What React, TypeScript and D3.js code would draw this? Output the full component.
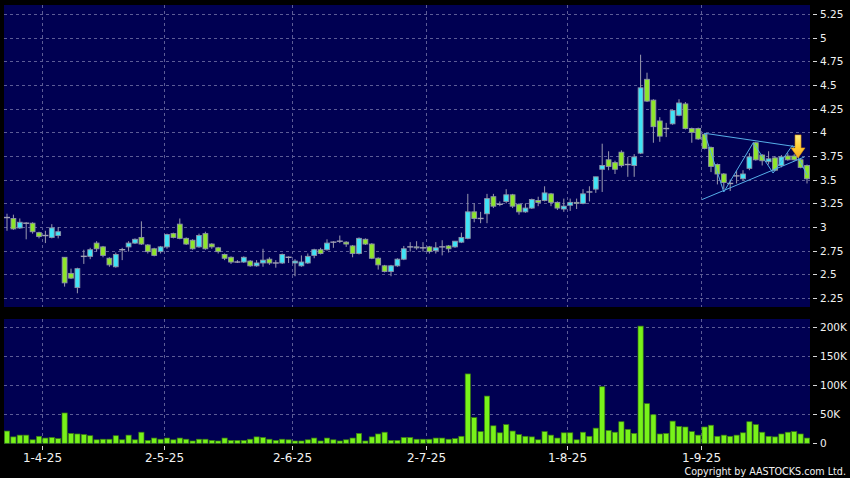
import React, { useEffect, useRef } from "react";
import * as d3 from "d3";

// trading days shown on the chart (D-M-YY)
const dates = [
  "25-3-25", "26-3-25", "27-3-25", "28-3-25", "31-3-25",
  "1-4-25", "2-4-25", "3-4-25", "7-4-25", "8-4-25", "9-4-25", "10-4-25", "11-4-25", "14-4-25", "15-4-25",
  "16-4-25", "17-4-25", "22-4-25", "23-4-25", "24-4-25", "25-4-25", "28-4-25", "29-4-25", "30-4-25",
  "2-5-25", "6-5-25", "7-5-25", "8-5-25", "9-5-25", "12-5-25", "13-5-25", "14-5-25", "15-5-25", "16-5-25",
  "19-5-25", "20-5-25", "21-5-25", "22-5-25", "23-5-25", "26-5-25", "27-5-25", "28-5-25", "29-5-25", "30-5-25",
  "2-6-25", "3-6-25", "4-6-25", "5-6-25", "6-6-25", "9-6-25", "10-6-25", "11-6-25", "12-6-25", "13-6-25",
  "16-6-25", "17-6-25", "18-6-25", "19-6-25", "20-6-25", "23-6-25", "24-6-25", "25-6-25", "26-6-25", "27-6-25", "30-6-25",
  "2-7-25", "3-7-25", "4-7-25", "7-7-25", "8-7-25", "9-7-25", "10-7-25", "11-7-25", "14-7-25", "15-7-25",
  "16-7-25", "17-7-25", "18-7-25", "21-7-25", "22-7-25", "23-7-25", "24-7-25", "25-7-25", "28-7-25", "29-7-25", "30-7-25", "31-7-25",
  "1-8-25", "4-8-25", "5-8-25", "6-8-25", "7-8-25", "8-8-25", "11-8-25", "12-8-25", "13-8-25", "14-8-25",
  "15-8-25", "18-8-25", "19-8-25", "20-8-25", "21-8-25", "22-8-25", "25-8-25", "26-8-25", "27-8-25", "28-8-25", "29-8-25",
  "1-9-25", "2-9-25", "3-9-25", "4-9-25", "5-9-25", "8-9-25", "9-9-25", "10-9-25", "11-9-25", "12-9-25",
  "15-9-25", "16-9-25", "17-9-25", "18-9-25", "19-9-25", "22-9-25", "23-9-25", "24-9-25",
];

const opens = [
  3.10, 3.09, 2.99, 3.04, 3.04, 2.94, 2.91, 2.89, 2.91, 2.68, 2.51, 2.36, 2.69, 2.69, 2.83, 2.79,
  2.67, 2.58, 2.76, 2.79, 2.83, 2.89, 2.81, 2.77, 2.74, 2.79, 2.93, 3.03, 2.88, 2.86, 2.79, 2.93,
  2.82, 2.78, 2.71, 2.68, 2.63, 2.63, 2.64, 2.59, 2.62, 2.66, 2.62, 2.62, 2.68, 2.62, 2.59, 2.62,
  2.70, 2.76, 2.76, 2.84, 2.85, 2.84, 2.80, 2.72, 2.87, 2.82, 2.67, 2.59, 2.53, 2.59, 2.66, 2.79,
  2.79, 2.78, 2.79, 2.75, 2.79, 2.80, 2.79, 2.84, 2.88, 3.16, 3.09, 3.14, 3.32, 3.24, 3.27, 3.34,
  3.24, 3.16, 3.20, 3.28, 3.28, 3.35, 3.26, 3.19, 3.23, 3.26, 3.25, 3.37, 3.40, 3.61, 3.71, 3.68,
  3.79, 3.66, 3.65, 3.78, 4.56, 4.34, 4.12, 4.04, 4.09, 4.18, 4.30, 4.04, 4.04, 3.98, 3.84, 3.66,
  3.56, 3.46, 3.54, 3.51, 3.62, 3.89, 3.76, 3.69, 3.73, 3.65, 3.75, 3.75, 3.71, 3.65,
];
const highs = [
  3.14, 3.13, 3.09, 3.05, 3.05, 2.95, 2.96, 3.03, 3.00, 2.68, 2.56, 2.57, 2.76, 2.78, 2.85, 2.80,
  2.68, 2.73, 2.78, 2.85, 2.88, 3.06, 2.82, 2.78, 2.80, 2.93, 2.94, 3.09, 2.89, 2.87, 2.93, 2.95,
  2.83, 2.79, 2.72, 2.69, 2.65, 2.69, 2.65, 2.65, 2.77, 2.68, 2.65, 2.72, 2.69, 2.66, 2.70, 2.72,
  2.77, 2.78, 2.87, 2.85, 2.91, 2.85, 2.81, 2.89, 2.88, 2.83, 2.68, 2.60, 2.60, 2.67, 2.80, 2.84,
  2.85, 2.84, 2.80, 2.84, 2.86, 2.81, 2.85, 2.94, 3.35, 3.25, 3.16, 3.35, 3.35, 3.27, 3.40, 3.35,
  3.25, 3.25, 3.30, 3.32, 3.43, 3.36, 3.27, 3.30, 3.30, 3.30, 3.40, 3.43, 3.53, 3.88, 3.80, 3.70,
  3.81, 3.74, 3.77, 4.82, 4.63, 4.35, 4.16, 4.10, 4.24, 4.35, 4.32, 4.05, 4.05, 3.99, 3.85, 3.67,
  3.57, 3.50, 3.59, 3.60, 3.78, 3.90, 3.77, 3.80, 3.75, 3.76, 3.78, 3.77, 3.72, 3.66,
];
const lows = [
  2.96, 2.97, 2.98, 2.87, 2.93, 2.88, 2.83, 2.88, 2.88, 2.37, 2.45, 2.30, 2.61, 2.66, 2.74, 2.68,
  2.58, 2.57, 2.65, 2.74, 2.82, 2.81, 2.72, 2.69, 2.72, 2.77, 2.88, 2.87, 2.81, 2.76, 2.78, 2.76,
  2.77, 2.72, 2.65, 2.61, 2.62, 2.62, 2.58, 2.58, 2.58, 2.60, 2.57, 2.61, 2.62, 2.48, 2.58, 2.61,
  2.67, 2.71, 2.75, 2.78, 2.83, 2.79, 2.68, 2.71, 2.81, 2.66, 2.55, 2.52, 2.48, 2.58, 2.65, 2.74,
  2.76, 2.74, 2.72, 2.72, 2.70, 2.73, 2.78, 2.83, 2.87, 3.05, 3.04, 3.04, 3.20, 3.22, 3.25, 3.20,
  3.13, 3.15, 3.19, 3.22, 3.27, 3.22, 3.18, 3.16, 3.17, 3.19, 3.24, 3.27, 3.36, 3.37, 3.60, 3.56,
  3.63, 3.53, 3.53, 3.77, 4.32, 3.89, 3.90, 3.95, 4.08, 4.17, 4.03, 3.89, 3.92, 3.82, 3.58, 3.45,
  3.40, 3.38, 3.46, 3.49, 3.60, 3.70, 3.65, 3.66, 3.59, 3.63, 3.70, 3.70, 3.62, 3.46,
];
const closes = [
  3.10, 2.98, 3.05, 3.04, 2.95, 2.90, 2.91, 2.99, 2.95, 2.41, 2.46, 2.56, 2.69, 2.76, 2.77, 2.70,
  2.60, 2.71, 2.76, 2.83, 2.87, 2.82, 2.74, 2.70, 2.79, 2.92, 2.89, 2.88, 2.82, 2.77, 2.91, 2.77,
  2.79, 2.74, 2.67, 2.63, 2.63, 2.68, 2.59, 2.62, 2.65, 2.62, 2.62, 2.71, 2.68, 2.64, 2.63, 2.69,
  2.76, 2.72, 2.83, 2.84, 2.85, 2.82, 2.72, 2.88, 2.82, 2.67, 2.60, 2.53, 2.59, 2.66, 2.77, 2.79,
  2.78, 2.78, 2.74, 2.78, 2.79, 2.77, 2.85, 2.89, 3.16, 3.09, 3.09, 3.30, 3.22, 3.24, 3.34, 3.22,
  3.16, 3.20, 3.29, 3.26, 3.36, 3.26, 3.20, 3.22, 3.26, 3.25, 3.35, 3.37, 3.53, 3.65, 3.64, 3.61,
  3.65, 3.66, 3.74, 4.47, 4.33, 4.06, 3.96, 4.04, 4.23, 4.31, 4.04, 4.00, 3.93, 3.83, 3.64, 3.56,
  3.47, 3.46, 3.54, 3.56, 3.74, 3.71, 3.70, 3.72, 3.60, 3.74, 3.71, 3.71, 3.63, 3.51,
];
// daily volume, thousands of shares
const volumes = [
  21, 11, 14, 14, 6, 12, 9, 10, 8, 52, 17, 16, 15, 13, 6, 7, 7, 13, 6, 14, 6, 19, 5, 9, 7, 9, 6, 9, 7, 4, 7, 7,
  5, 4, 9, 5, 5, 5, 7, 11, 10, 7, 5, 7, 6, 4, 4, 6, 9, 4, 9, 6, 4, 6, 9, 17, 4, 11, 16, 19, 5, 5, 10, 10,
  7, 7, 7, 9, 9, 7, 8, 12, 119, 44, 20, 81, 30, 18, 32, 21, 15, 12, 11, 6, 20, 14, 9, 18, 18, 6, 19, 12, 26, 97, 22, 19,
  37, 24, 17, 201, 68, 49, 16, 17, 38, 29, 28, 20, 14, 28, 31, 12, 14, 12, 14, 18, 37, 32, 19, 12, 11, 16, 19, 20, 16, 9,
];

const priceTicks = [2.25, 2.5, 2.75, 3, 3.25, 3.5, 3.75, 4, 4.25, 4.5, 4.75, 5, 5.25];
const volumeTicks = [0, 50000, 100000, 150000, 200000];
const dateTicks = ["1-4-25", "2-5-25", "2-6-25", "2-7-25", "1-8-25", "1-9-25"];

// triangle pattern drawn on the chart: [candle index, price]
const upperLine = [[109, 3.99], [123.6, 3.845]];
const lowerLine = [[108.6, 3.29], [124.6, 3.74]];
const zigzag = [[109, 3.99], [112, 3.37], [116.6, 3.89], [119.7, 3.57], [122.7, 3.86], [125, 3.55]];
const arrowAt = [123.6, 3.73];

const App = () => {
  const svgRef = useRef<SVGSVGElement>(null);

  useEffect(() => {
    const dims = {
      width: 850,
      height: 478,
      left: 4,
      right: 810,
      priceTop: 5,
      priceBottom: 307,
      volTop: 319,
      volBottom: 444,
    };

    const candles = dates.map((d, i) => ({
      date: d,
      o: opens[i],
      h: highs[i],
      l: lows[i],
      c: closes[i],
      v: volumes[i] * 1000,
    }));

    const x = d3.scaleBand<string>().domain(dates).range([3.8, 810.2]);
    const cx = (d: string) => (x(d) as number) + x.step() / 2;
    // grid / ticks sit on the boundary after the labelled day
    const tx = (d: string) => Math.round((x(d) as number) + x.step()) + 0.5;
    const xi = d3
      .scaleLinear()
      .domain([0, dates.length - 1])
      .range([cx(dates[0]), cx(dates[dates.length - 1])]);
    const y = d3.scaleLinear([2.25, 5.25], [298, 14]);
    const yv = d3.scaleLinear([0, 200000], [443.3, 326.7]);

    const svg = d3.select(svgRef.current);
    svg.selectAll("*").remove();

    const defs = svg.append("defs");
    const grad = defs
      .append("linearGradient")
      .attr("id", "arrowFill")
      .attr("x1", 0)
      .attr("y1", 0)
      .attr("x2", 0)
      .attr("y2", 1);
    grad.append("stop").attr("offset", "0%").attr("stop-color", "#ffec80");
    grad.append("stop").attr("offset", "55%").attr("stop-color", "#ffcc33");
    grad.append("stop").attr("offset", "100%").attr("stop-color", "#f2a51c");
    defs
      .append("clipPath")
      .attr("id", "priceClip")
      .append("rect")
      .attr("x", dims.left)
      .attr("y", dims.priceTop)
      .attr("width", dims.right - dims.left)
      .attr("height", dims.priceBottom - dims.priceTop);

    svg.append("rect").attr("width", dims.width).attr("height", dims.height).attr("fill", "#000");

    // panels
    [
      [dims.priceTop, dims.priceBottom],
      [dims.volTop, dims.volBottom],
    ].forEach(([t, b]) => {
      svg
        .append("rect")
        .attr("x", dims.left)
        .attr("y", t)
        .attr("width", dims.right - dims.left)
        .attr("height", b - t)
        .attr("fill", "#000052");
    });

    const gridColor = "#5c5c96";

    // horizontal grid
    svg
      .append("g")
      .selectAll("line")
      .data(priceTicks)
      .join("line")
      .attr("x1", dims.left)
      .attr("x2", dims.right)
      .attr("y1", (d) => Math.round(y(d)) + 0.5)
      .attr("y2", (d) => Math.round(y(d)) + 0.5)
      .attr("stroke", gridColor)
      .attr("stroke-dasharray", "3 3");

    svg
      .append("g")
      .selectAll("line")
      .data(volumeTicks.filter((d) => d > 0))
      .join("line")
      .attr("x1", dims.left)
      .attr("x2", dims.right)
      .attr("y1", (d) => Math.round(yv(d)) + 0.5)
      .attr("y2", (d) => Math.round(yv(d)) + 0.5)
      .attr("stroke", gridColor)
      .attr("stroke-dasharray", "3 3");

    // vertical grid
    [
      [dims.priceTop, dims.priceBottom],
      [dims.volTop, dims.volBottom],
    ].forEach(([t, b]) => {
      svg
        .append("g")
        .selectAll("line")
        .data(dateTicks)
        .join("line")
        .attr("x1", tx)
        .attr("x2", tx)
        .attr("y1", t)
        .attr("y2", b)
        .attr("stroke", gridColor)
        .attr("stroke-dasharray", "3 3");
    });

    // candles
    const cg = svg.append("g").attr("clip-path", "url(#priceClip)");
    cg.selectAll("line.wick")
      .data(candles)
      .join("line")
      .attr("class", "wick")
      .attr("x1", (d) => cx(d.date))
      .attr("x2", (d) => cx(d.date))
      .attr("y1", (d) => y(d.h))
      .attr("y2", (d) => y(d.l))
      .attr("stroke", "#9a9aae")
      .attr("stroke-width", 1);

    cg.selectAll("rect.body")
      .data(candles.filter((d) => d.o !== d.c))
      .join("rect")
      .attr("class", "body")
      .attr("x", (d) => cx(d.date) - 2.4)
      .attr("width", 4.8)
      .attr("y", (d) => y(Math.max(d.o, d.c)))
      .attr("height", (d) => Math.max(1, Math.abs(y(d.o) - y(d.c))))
      .attr("fill", (d) => (d.c > d.o ? "#3fe4f6" : "#8ee62a"))
      .attr("stroke", "#8e94a8")
      .attr("stroke-width", 0.9);

    cg.selectAll("line.doji")
      .data(candles.filter((d) => d.o === d.c))
      .join("line")
      .attr("class", "doji")
      .attr("x1", (d) => cx(d.date) - 3)
      .attr("x2", (d) => cx(d.date) + 3)
      .attr("y1", (d) => y(d.c))
      .attr("y2", (d) => y(d.c))
      .attr("stroke", "#a0a0b4")
      .attr("stroke-width", 1.4);

    // triangle pattern
    const line = d3
      .line<number[]>()
      .x((p) => xi(p[0]))
      .y((p) => y(p[1]));
    [upperLine, lowerLine, zigzag].forEach((pts) => {
      cg.append("path")
        .attr("d", line(pts))
        .attr("fill", "none")
        .attr("stroke", "#56aee8")
        .attr("stroke-width", 1);
    });

    // arrow marker
    const ax = xi(arrowAt[0]);
    const ay = y(arrowAt[1]);
    svg
      .append("path")
      .attr(
        "d",
        `M${ax - 3},${ay - 23} L${ax + 3},${ay - 23} L${ax + 3},${ay - 10} L${ax + 7},${ay - 10} L${ax},${ay} L${ax - 7},${ay - 10} L${ax - 3},${ay - 10} Z`
      )
      .attr("fill", "url(#arrowFill)")
      .attr("stroke", "#d68a10")
      .attr("stroke-width", 0.6);

    // volume bars
    svg
      .append("g")
      .selectAll("rect")
      .data(candles)
      .join("rect")
      .attr("x", (d) => cx(d.date) - 2.6)
      .attr("width", 5.2)
      .attr("y", (d) => yv(d.v))
      .attr("height", (d) => yv(0) - yv(d.v))
      .attr("fill", "#78f21a")
      .attr("stroke", "#3a7c12")
      .attr("stroke-width", 0.7);

    // right axes
    const axisFont = "DejaVu Sans, Verdana, sans-serif";
    const rightAxis = (ticks: number[], scale: d3.ScaleLinear<number, number>, fmt: (d: number) => string) => {
      const g = svg.append("g");
      g.selectAll("line")
        .data(ticks)
        .join("line")
        .attr("x1", 813)
        .attr("x2", 817)
        .attr("y1", (d) => Math.round(scale(d)) + 0.5)
        .attr("y2", (d) => Math.round(scale(d)) + 0.5)
        .attr("stroke", "#d8d8d8");
      g.selectAll("text")
        .data(ticks)
        .join("text")
        .attr("x", 820)
        .attr("y", (d) => scale(d) + 4)
        .attr("fill", "#f2f2f2")
        .attr("font-family", axisFont)
        .attr("font-size", 10.5)
        .text(fmt);
    };
    rightAxis(priceTicks, y, (d) => String(d));
    rightAxis(volumeTicks, yv, (d) => (d === 0 ? "0" : `${d / 1000}K`));

    // date axis
    const xg = svg.append("g");
    xg.selectAll("line")
      .data(dateTicks)
      .join("line")
      .attr("x1", tx)
      .attr("x2", tx)
      .attr("y1", 446)
      .attr("y2", 450)
      .attr("stroke", "#d8d8d8");
    xg.selectAll("text")
      .data(dateTicks)
      .join("text")
      .attr("x", tx)
      .attr("y", 462)
      .attr("text-anchor", "middle")
      .attr("fill", "#f2f2f2")
      .attr("font-family", axisFont)
      .attr("font-size", 12)
      .text((d) => d);

    svg
      .append("text")
      .attr("x", 846)
      .attr("y", 475)
      .attr("text-anchor", "end")
      .attr("fill", "#f2f2f2")
      .attr("font-family", axisFont)
      .attr("font-size", 9.6)
      .text("Copyright by AASTOCKS.com Ltd.");
  }, []);

  return (
    <svg
      ref={svgRef}
      width={850}
      height={478}
      style={{ position: "absolute", left: 0, top: 0, display: "block" }}
    />
  );
};

export default App;
